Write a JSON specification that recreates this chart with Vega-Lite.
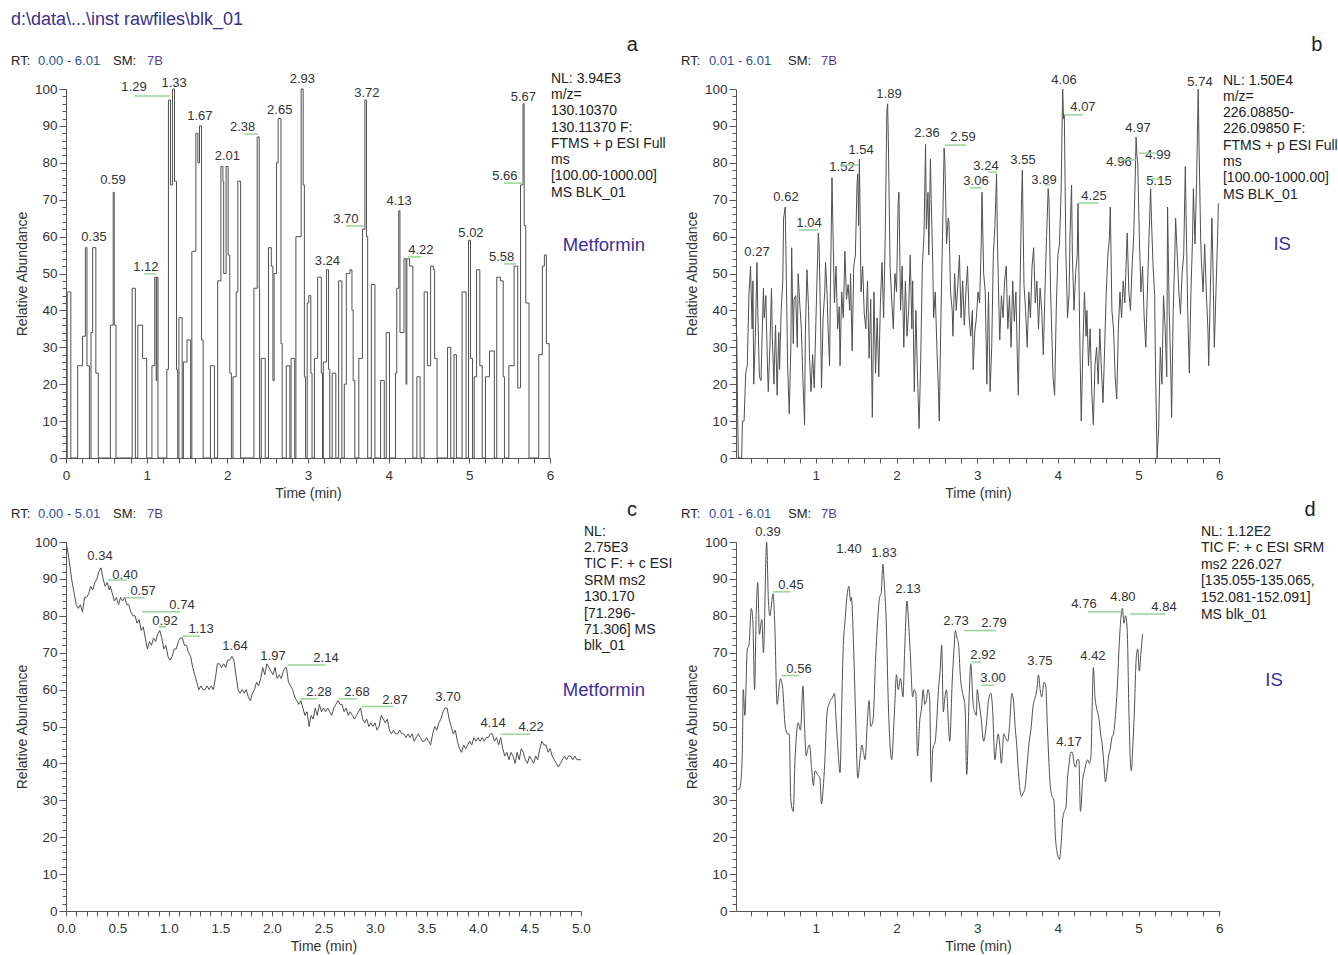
{
"$schema": "https://vega.github.io/schema/vega-lite/v6.json",
"padding": {"left": 10, "top": 11, "right": 0, "bottom": 0},
"background": "white",
"config": {
 "font": "Liberation Sans",
 "view": {"stroke": null},
 "axis": {"grid": false, "domainColor": "#555", "tickColor": "#555", "domainWidth": 1, "tickWidth": 1, "labelColor": "#333", "labelFont": "Liberation Sans", "labelFontSize": 13.5, "titleFont": "Liberation Sans", "titleFontSize": 14, "titleFontWeight": "normal", "titleColor": "#333", "labelOverlap": false, "labelFlush": false, "tickCount": 1000}
},
"columns": 2,
"spacing": {"row": 84, "column": 155},
"bounds": "flush",
"concat": [
{
 "width": 484, "height": 369,
 "layer": [
  {"data": {"values": [
{"t":0,"v":0},{"t":0.015,"v":45},{"t":0.06,"v":0},{"t":0.145,"v":25},{"t":0.205,"v":33},{"t":0.24,"v":57},{"t":0.26,"v":25},{"t":0.29,"v":0},{"t":0.31,"v":34},{"t":0.33,"v":57},{"t":0.37,"v":23},{"t":0.4,"v":0},{"t":0.55,"v":36},{"t":0.585,"v":72},{"t":0.598,"v":36},{"t":0.62,"v":0},{"t":0.82,"v":46},{"t":0.86,"v":0},{"t":0.89,"v":36},{"t":0.95,"v":27},{"t":1.0,"v":0},{"t":1.065,"v":25},{"t":1.1,"v":49},{"t":1.118,"v":21},{"t":1.125,"v":49},{"t":1.14,"v":0},{"t":1.25,"v":24},{"t":1.27,"v":97},{"t":1.295,"v":74},{"t":1.32,"v":100},{"t":1.345,"v":75},{"t":1.37,"v":24},{"t":1.385,"v":0},{"t":1.4,"v":38},{"t":1.44,"v":0},{"t":1.455,"v":26},{"t":1.5,"v":32},{"t":1.545,"v":0},{"t":1.56,"v":56},{"t":1.61,"v":88},{"t":1.635,"v":80},{"t":1.655,"v":90},{"t":1.68,"v":32},{"t":1.7,"v":0},{"t":1.79,"v":25},{"t":1.84,"v":0},{"t":1.88,"v":48},{"t":1.92,"v":79},{"t":1.945,"v":75},{"t":1.955,"v":50},{"t":1.985,"v":79},{"t":2.01,"v":55},{"t":2.03,"v":23},{"t":2.05,"v":0},{"t":2.07,"v":22},{"t":2.11,"v":45},{"t":2.13,"v":75},{"t":2.165,"v":0},{"t":2.33,"v":46},{"t":2.37,"v":87},{"t":2.395,"v":46},{"t":2.4,"v":0},{"t":2.42,"v":27},{"t":2.47,"v":0},{"t":2.51,"v":57},{"t":2.545,"v":52},{"t":2.565,"v":21},{"t":2.58,"v":50},{"t":2.61,"v":80},{"t":2.63,"v":92},{"t":2.665,"v":31},{"t":2.68,"v":0},{"t":2.73,"v":25},{"t":2.775,"v":0},{"t":2.79,"v":27},{"t":2.835,"v":0},{"t":2.85,"v":60},{"t":2.915,"v":100},{"t":2.94,"v":74},{"t":2.955,"v":22},{"t":2.97,"v":0},{"t":2.99,"v":42},{"t":3.01,"v":44},{"t":3.035,"v":23},{"t":3.05,"v":0},{"t":3.08,"v":27},{"t":3.12,"v":49},{"t":3.165,"v":23},{"t":3.18,"v":0},{"t":3.19,"v":26},{"t":3.23,"v":51},{"t":3.255,"v":24},{"t":3.27,"v":0},{"t":3.3,"v":23},{"t":3.345,"v":0},{"t":3.38,"v":48},{"t":3.42,"v":0},{"t":3.45,"v":20},{"t":3.475,"v":50},{"t":3.52,"v":51},{"t":3.545,"v":40},{"t":3.56,"v":21},{"t":3.58,"v":0},{"t":3.63,"v":27},{"t":3.675,"v":62},{"t":3.705,"v":97},{"t":3.725,"v":60},{"t":3.74,"v":0},{"t":3.785,"v":47},{"t":3.83,"v":0},{"t":3.9,"v":21},{"t":3.945,"v":0},{"t":3.97,"v":34},{"t":4.01,"v":0},{"t":4.085,"v":23},{"t":4.1,"v":46},{"t":4.125,"v":67},{"t":4.14,"v":34},{"t":4.19,"v":54},{"t":4.215,"v":20},{"t":4.225,"v":54},{"t":4.26,"v":52},{"t":4.3,"v":0},{"t":4.35,"v":22},{"t":4.39,"v":0},{"t":4.44,"v":45},{"t":4.48,"v":25},{"t":4.52,"v":52},{"t":4.555,"v":51},{"t":4.57,"v":27},{"t":4.6,"v":0},{"t":4.73,"v":30},{"t":4.77,"v":0},{"t":4.81,"v":28},{"t":4.84,"v":0},{"t":4.91,"v":45},{"t":4.96,"v":0},{"t":4.99,"v":59},{"t":5.015,"v":27},{"t":5.04,"v":0},{"t":5.06,"v":22},{"t":5.09,"v":51},{"t":5.13,"v":25},{"t":5.16,"v":0},{"t":5.2,"v":22},{"t":5.25,"v":29},{"t":5.31,"v":0},{"t":5.34,"v":49},{"t":5.385,"v":48},{"t":5.42,"v":22},{"t":5.435,"v":0},{"t":5.49,"v":25},{"t":5.555,"v":52},{"t":5.6,"v":19},{"t":5.635,"v":74},{"t":5.665,"v":96},{"t":5.68,"v":63},{"t":5.7,"v":42},{"t":5.74,"v":0},{"t":5.86,"v":28},{"t":5.905,"v":52},{"t":5.93,"v":55},{"t":5.955,"v":31},{"t":5.99,"v":0},{"t":6.0,"v":0}
  ]},
   "mark": {"type": "line", "interpolate": "step-after", "color": "#505050", "strokeWidth": 1},
   "encoding": {
    "x": {"field": "t", "type": "quantitative", "scale": {"domain": [0, 6], "nice": false, "zero": false},
      "axis": {"title": "Time (min)", "values": [0,0.2,0.4,0.6,0.8,1,1.2,1.4,1.6,1.8,2,2.2,2.4,2.6,2.8,3,3.2,3.4,3.6,3.8,4,4.2,4.4,4.6,4.8,5,5.2,5.4,5.6,5.8,6], "tickCount": 1000, "labelExpr": "datum.value % 1 === 0 ? format(datum.value, 'd') : ''", "labelOverlap": false, "labelBound": false, "tickSize": 5, "labelPadding": 5, "titlePadding": 5}},
    "y": {"field": "v", "type": "quantitative", "scale": {"domain": [0, 100], "nice": false},
      "axis": {"title": "Relative Abundance", "values": [0,2,4,6,8,10,12,14,16,18,20,22,24,26,28,30,32,34,36,38,40,42,44,46,48,50,52,54,56,58,60,62,64,66,68,70,72,74,76,78,80,82,84,86,88,90,92,94,96,98,100], "tickCount": 1000, "labelExpr": "datum.value % 10 === 0 ? format(datum.value, 'd') : ''", "labelOverlap": false, "labelBound": false, "tickSize": {"condition": {"test": "datum.value % 10 === 0", "value": 7}, "value": 4}, "labelPadding": 2, "titlePadding": 5}}
   }},
  {"data": {"values": [
{"t":0.347,"v":59.9,"label":"0.35"},{"t":0.583,"v":75.3,"label":"0.59"},{"t":0.99,"v":51.8,"label":"1.12"},{"t":0.843,"v":100.5,"label":"1.29"},{"t":1.34,"v":101.6,"label":"1.33"},{"t":1.66,"v":92.7,"label":"1.67"},{"t":2.0,"v":81.8,"label":"2.01"},{"t":2.19,"v":89.7,"label":"2.38"},{"t":2.65,"v":94.3,"label":"2.65"},{"t":2.93,"v":102.7,"label":"2.93"},{"t":3.24,"v":53.4,"label":"3.24"},{"t":3.47,"v":64.8,"label":"3.70"},{"t":3.73,"v":98.9,"label":"3.72"},{"t":4.13,"v":69.6,"label":"4.13"},{"t":4.4,"v":56.4,"label":"4.22"},{"t":5.02,"v":61,"label":"5.02"},{"t":5.4,"v":54.5,"label":"5.58"},{"t":5.44,"v":76.4,"label":"5.66"},{"t":5.67,"v":97.8,"label":"5.67"}
  ]},
   "mark": {"type": "text", "fontSize": 13, "color": "#333", "baseline": "middle", "align": "center"},
   "encoding": {"x": {"field": "t", "type": "quantitative"}, "y": {"field": "v", "type": "quantitative"}, "text": {"field": "label"}}},
  {"data": {"values": [
{"t":0.97,"t2":1.12,"v":49.9},{"t":0.85,"t2":1.29,"v":98.1},{"t":2.21,"t2":2.38,"v":87.8},{"t":3.47,"t2":3.69,"v":62.9},{"t":4.24,"t2":4.4,"v":54.5},{"t":5.43,"t2":5.58,"v":52.6},{"t":5.43,"t2":5.67,"v":74.5}
  ]},
   "mark": {"type": "rule", "color": "#9ad39a", "strokeWidth": 1.5},
   "encoding": {"x": {"field": "t", "type": "quantitative"}, "x2": {"field": "t2"}, "y": {"field": "v", "type": "quantitative"}}},
  {"data": {"values": [
{"t":-0.682,"v":109.3,"kind":"rt","txt":"RT:"},{"t":-0.347,"v":109.3,"kind":"range","txt":"0.00 - 6.01"},{"t":0.583,"v":109.3,"kind":"rt","txt":"SM:"},{"t":1.004,"v":109.3,"kind":"code","txt":"7B"},
{"t":6.012,"v":104.7,"kind":"block","txt":"NL: 3.94E3\nm/z=\n130.10370\n130.11370 F:\nFTMS + p ESI Full\nms\n[100.00-1000.00]\nMS BLK_01"}
  ]},
   "mark": {"type": "text", "fontSize": 14, "align": "left", "baseline": "top", "lineBreak": "\n", "lineHeight": 16.3},
   "encoding": {"x": {"field": "t", "type": "quantitative"}, "y": {"field": "v", "type": "quantitative"}, "text": {"field": "txt"},
     "size": {"condition": {"test": "datum.kind === 'block'", "value": 14}, "value": 13},
     "color": {"condition": [{"test": "datum.kind === 'range'", "value": "#2d4e9e"}, {"test": "datum.kind === 'code'", "value": "#5b3c9c"}], "value": "#222222"}}},
  {"data": {"values": [
{"t":7.02,"v":111.9,"kind":"letter","txt":"a"},{"t":6.669,"v":57.7,"kind":"compound","txt":"Metformin"}
  ]},
   "mark": {"type": "text", "align": "center", "baseline": "middle"},
   "encoding": {"x": {"field": "t", "type": "quantitative"}, "y": {"field": "v", "type": "quantitative"}, "text": {"field": "txt"},
     "size": {"condition": {"test": "datum.kind === 'letter'", "value": 20}, "value": 18.5},
     "color": {"condition": {"test": "datum.kind === 'compound'", "value": "#3b2f9a"}, "value": "#222222"}}},
  {"data": {"values": [{"t":-0.682,"v":121.1,"txt":"d:\\data\\...\\inst rawfiles\\blk_01"}]},
   "mark": {"type": "text", "align": "left", "baseline": "top", "fontSize": 18, "color": "#3a2e8f"},
   "encoding": {"x": {"field": "t", "type": "quantitative"}, "y": {"field": "v", "type": "quantitative"}, "text": {"field": "txt"}}}
 ]
},
{
 "width": 484, "height": 369,
 "layer": [
  {"data": {"values": [
{"t":0.01,"v":38},{"t":0.02,"v":32},{"t":0.03,"v":12},{"t":0.04,"v":0},{"t":0.06,"v":0},{"t":0.08,"v":0},{"t":0.09,"v":10},{"t":0.11,"v":10},{"t":0.13,"v":23},{"t":0.15,"v":25},{"t":0.17,"v":44},{"t":0.19,"v":52},{"t":0.21,"v":35},{"t":0.22,"v":48},{"t":0.23,"v":20},{"t":0.25,"v":33},{"t":0.27,"v":53},{"t":0.28,"v":40},{"t":0.3,"v":22},{"t":0.32,"v":21},{"t":0.33,"v":30},{"t":0.35,"v":46},{"t":0.36,"v":38},{"t":0.38,"v":44},{"t":0.4,"v":25},{"t":0.41,"v":18},{"t":0.43,"v":30},{"t":0.45,"v":46},{"t":0.46,"v":33},{"t":0.48,"v":20},{"t":0.5,"v":36},{"t":0.52,"v":17},{"t":0.54,"v":34},{"t":0.55,"v":24},{"t":0.57,"v":40},{"t":0.59,"v":48},{"t":0.6,"v":65},{"t":0.62,"v":68},{"t":0.64,"v":40},{"t":0.65,"v":25},{"t":0.67,"v":12},{"t":0.69,"v":30},{"t":0.7,"v":57},{"t":0.72,"v":31},{"t":0.73,"v":43},{"t":0.75,"v":44},{"t":0.77,"v":30},{"t":0.78,"v":50},{"t":0.8,"v":42},{"t":0.82,"v":35},{"t":0.84,"v":21},{"t":0.86,"v":9},{"t":0.87,"v":34},{"t":0.89,"v":51},{"t":0.91,"v":40},{"t":0.92,"v":28},{"t":0.94,"v":18},{"t":0.96,"v":28},{"t":0.98,"v":19},{"t":0.99,"v":28},{"t":1.01,"v":45},{"t":1.03,"v":61},{"t":1.04,"v":58},{"t":1.06,"v":35},{"t":1.07,"v":19},{"t":1.09,"v":38},{"t":1.11,"v":45},{"t":1.12,"v":53},{"t":1.14,"v":44},{"t":1.15,"v":36},{"t":1.17,"v":25},{"t":1.18,"v":45},{"t":1.2,"v":76},{"t":1.21,"v":64},{"t":1.23,"v":42},{"t":1.25,"v":52},{"t":1.27,"v":35},{"t":1.29,"v":41},{"t":1.3,"v":25},{"t":1.32,"v":45},{"t":1.34,"v":38},{"t":1.36,"v":56},{"t":1.38,"v":43},{"t":1.4,"v":47},{"t":1.42,"v":40},{"t":1.43,"v":50},{"t":1.45,"v":29},{"t":1.47,"v":52},{"t":1.49,"v":55},{"t":1.51,"v":74},{"t":1.52,"v":77},{"t":1.53,"v":63},{"t":1.54,"v":81},{"t":1.56,"v":45},{"t":1.58,"v":52},{"t":1.6,"v":39},{"t":1.62,"v":35},{"t":1.64,"v":48},{"t":1.66,"v":27},{"t":1.68,"v":43},{"t":1.7,"v":11},{"t":1.72,"v":45},{"t":1.74,"v":23},{"t":1.76,"v":38},{"t":1.78,"v":22},{"t":1.8,"v":42},{"t":1.82,"v":53},{"t":1.84,"v":38},{"t":1.86,"v":60},{"t":1.88,"v":94},{"t":1.89,"v":96},{"t":1.9,"v":84},{"t":1.92,"v":52},{"t":1.94,"v":43},{"t":1.96,"v":35},{"t":1.98,"v":50},{"t":2.0,"v":45},{"t":2.02,"v":69},{"t":2.03,"v":72},{"t":2.05,"v":40},{"t":2.07,"v":52},{"t":2.09,"v":30},{"t":2.11,"v":48},{"t":2.13,"v":33},{"t":2.15,"v":40},{"t":2.17,"v":55},{"t":2.19,"v":35},{"t":2.2,"v":48},{"t":2.22,"v":18},{"t":2.24,"v":40},{"t":2.26,"v":22},{"t":2.28,"v":8},{"t":2.3,"v":27},{"t":2.32,"v":52},{"t":2.34,"v":60},{"t":2.36,"v":85},{"t":2.37,"v":62},{"t":2.39,"v":72},{"t":2.4,"v":55},{"t":2.42,"v":81},{"t":2.43,"v":70},{"t":2.45,"v":52},{"t":2.46,"v":38},{"t":2.48,"v":45},{"t":2.5,"v":30},{"t":2.52,"v":18},{"t":2.53,"v":10},{"t":2.55,"v":38},{"t":2.57,"v":60},{"t":2.59,"v":84},{"t":2.6,"v":80},{"t":2.62,"v":58},{"t":2.64,"v":65},{"t":2.65,"v":64},{"t":2.67,"v":45},{"t":2.69,"v":40},{"t":2.7,"v":33},{"t":2.72,"v":50},{"t":2.74,"v":40},{"t":2.76,"v":47},{"t":2.78,"v":55},{"t":2.8,"v":38},{"t":2.82,"v":48},{"t":2.84,"v":36},{"t":2.86,"v":45},{"t":2.88,"v":52},{"t":2.9,"v":38},{"t":2.92,"v":33},{"t":2.94,"v":40},{"t":2.95,"v":24},{"t":2.97,"v":34},{"t":2.99,"v":38},{"t":3.01,"v":45},{"t":3.03,"v":42},{"t":3.05,"v":58},{"t":3.06,"v":72},{"t":3.08,"v":50},{"t":3.1,"v":45},{"t":3.12,"v":20},{"t":3.14,"v":45},{"t":3.16,"v":18},{"t":3.18,"v":30},{"t":3.2,"v":55},{"t":3.22,"v":63},{"t":3.24,"v":77},{"t":3.25,"v":60},{"t":3.27,"v":40},{"t":3.28,"v":32},{"t":3.3,"v":44},{"t":3.32,"v":38},{"t":3.34,"v":48},{"t":3.36,"v":52},{"t":3.38,"v":35},{"t":3.4,"v":44},{"t":3.42,"v":30},{"t":3.44,"v":48},{"t":3.46,"v":37},{"t":3.48,"v":45},{"t":3.5,"v":25},{"t":3.51,"v":17},{"t":3.53,"v":45},{"t":3.55,"v":70},{"t":3.56,"v":78},{"t":3.58,"v":47},{"t":3.6,"v":40},{"t":3.62,"v":30},{"t":3.64,"v":45},{"t":3.66,"v":38},{"t":3.68,"v":52},{"t":3.7,"v":57},{"t":3.72,"v":42},{"t":3.74,"v":48},{"t":3.76,"v":35},{"t":3.78,"v":46},{"t":3.8,"v":40},{"t":3.82,"v":28},{"t":3.84,"v":45},{"t":3.86,"v":60},{"t":3.88,"v":73},{"t":3.89,"v":70},{"t":3.91,"v":45},{"t":3.93,"v":30},{"t":3.94,"v":22},{"t":3.96,"v":17},{"t":3.98,"v":40},{"t":4.0,"v":55},{"t":4.02,"v":58},{"t":4.04,"v":72},{"t":4.06,"v":100},{"t":4.07,"v":92},{"t":4.08,"v":93},{"t":4.1,"v":55},{"t":4.12,"v":38},{"t":4.14,"v":45},{"t":4.15,"v":60},{"t":4.17,"v":74},{"t":4.18,"v":55},{"t":4.2,"v":40},{"t":4.22,"v":50},{"t":4.24,"v":55},{"t":4.25,"v":69},{"t":4.27,"v":35},{"t":4.29,"v":10},{"t":4.31,"v":30},{"t":4.33,"v":45},{"t":4.35,"v":33},{"t":4.36,"v":40},{"t":4.38,"v":25},{"t":4.4,"v":35},{"t":4.42,"v":18},{"t":4.44,"v":9},{"t":4.46,"v":25},{"t":4.48,"v":30},{"t":4.5,"v":20},{"t":4.52,"v":35},{"t":4.54,"v":24},{"t":4.56,"v":15},{"t":4.58,"v":30},{"t":4.6,"v":45},{"t":4.62,"v":55},{"t":4.64,"v":60},{"t":4.65,"v":68},{"t":4.67,"v":40},{"t":4.69,"v":35},{"t":4.71,"v":22},{"t":4.73,"v":16},{"t":4.75,"v":35},{"t":4.77,"v":45},{"t":4.79,"v":38},{"t":4.81,"v":48},{"t":4.83,"v":42},{"t":4.85,"v":55},{"t":4.86,"v":61},{"t":4.88,"v":45},{"t":4.9,"v":40},{"t":4.92,"v":52},{"t":4.94,"v":60},{"t":4.96,"v":77},{"t":4.97,"v":87},{"t":4.98,"v":82},{"t":4.99,"v":80},{"t":5.01,"v":60},{"t":5.03,"v":45},{"t":5.05,"v":52},{"t":5.07,"v":38},{"t":5.09,"v":30},{"t":5.11,"v":45},{"t":5.13,"v":60},{"t":5.15,"v":73},{"t":5.16,"v":65},{"t":5.18,"v":52},{"t":5.2,"v":44},{"t":5.21,"v":25},{"t":5.23,"v":0},{"t":5.25,"v":8},{"t":5.27,"v":30},{"t":5.29,"v":20},{"t":5.31,"v":44},{"t":5.33,"v":35},{"t":5.35,"v":22},{"t":5.36,"v":68},{"t":5.38,"v":40},{"t":5.4,"v":24},{"t":5.41,"v":11},{"t":5.43,"v":40},{"t":5.45,"v":55},{"t":5.46,"v":65},{"t":5.48,"v":55},{"t":5.5,"v":45},{"t":5.52,"v":39},{"t":5.54,"v":50},{"t":5.56,"v":55},{"t":5.58,"v":79},{"t":5.59,"v":65},{"t":5.61,"v":40},{"t":5.63,"v":23},{"t":5.65,"v":45},{"t":5.67,"v":60},{"t":5.68,"v":73},{"t":5.7,"v":58},{"t":5.72,"v":75},{"t":5.74,"v":100},{"t":5.75,"v":85},{"t":5.77,"v":60},{"t":5.78,"v":53},{"t":5.8,"v":45},{"t":5.82,"v":58},{"t":5.84,"v":45},{"t":5.86,"v":35},{"t":5.87,"v":25},{"t":5.89,"v":45},{"t":5.91,"v":65},{"t":5.92,"v":55},{"t":5.94,"v":30},{"t":5.96,"v":45},{"t":5.98,"v":60},{"t":5.99,"v":69}
  ]},
   "mark": {"type": "line", "color": "#505050", "strokeWidth": 1},
   "encoding": {
    "x": {"field": "t", "type": "quantitative", "scale": {"domain": [0.01, 6.01], "nice": false, "zero": false},
      "axis": {"title": "Time (min)", "values": [0.2,0.4,0.6,0.8,1,1.2,1.4,1.6,1.8,2,2.2,2.4,2.6,2.8,3,3.2,3.4,3.6,3.8,4,4.2,4.4,4.6,4.8,5,5.2,5.4,5.6,5.8,6], "tickCount": 1000, "labelExpr": "datum.value % 1 === 0 ? format(datum.value, 'd') : ''", "labelOverlap": false, "labelBound": false, "tickSize": 5, "labelPadding": 5, "titlePadding": 5}},
    "y": {"field": "v", "type": "quantitative", "scale": {"domain": [0, 100], "nice": false},
      "axis": {"title": "Relative Abundance", "values": [0,2,4,6,8,10,12,14,16,18,20,22,24,26,28,30,32,34,36,38,40,42,44,46,48,50,52,54,56,58,60,62,64,66,68,70,72,74,76,78,80,82,84,86,88,90,92,94,96,98,100], "tickCount": 1000, "labelExpr": "datum.value % 10 === 0 ? format(datum.value, 'd') : ''", "labelOverlap": false, "labelBound": false, "tickSize": {"condition": {"test": "datum.value % 10 === 0", "value": 7}, "value": 4}, "labelPadding": 2, "titlePadding": 5}}
   }},
  {"data": {"values": [
{"t":0.27,"v":55.8,"label":"0.27"},{"t":0.63,"v":70.7,"label":"0.62"},{"t":0.915,"v":63.7,"label":"1.04"},{"t":1.324,"v":78.9,"label":"1.52"},{"t":1.56,"v":83.5,"label":"1.54"},{"t":1.907,"v":98.6,"label":"1.89"},{"t":2.378,"v":88.1,"label":"2.36"},{"t":2.824,"v":87,"label":"2.59"},{"t":2.985,"v":75.1,"label":"3.06"},{"t":3.109,"v":79.1,"label":"3.24"},{"t":3.568,"v":80.8,"label":"3.55"},{"t":3.828,"v":75.3,"label":"3.89"},{"t":4.076,"v":102.4,"label":"4.06"},{"t":4.311,"v":95.1,"label":"4.07"},{"t":4.448,"v":71,"label":"4.25"},{"t":4.758,"v":80.2,"label":"4.96"},{"t":4.993,"v":89.4,"label":"4.97"},{"t":5.241,"v":82.1,"label":"4.99"},{"t":5.254,"v":75.1,"label":"5.15"},{"t":5.762,"v":101.9,"label":"5.74"}
  ]},
   "mark": {"type": "text", "fontSize": 13, "color": "#333", "baseline": "middle", "align": "center"},
   "encoding": {"x": {"field": "t", "type": "quantitative"}, "y": {"field": "v", "type": "quantitative"}, "text": {"field": "label"}}},
  {"data": {"values": [
{"t":0.79,"t2":1.03,"v":61.8},{"t":1.3,"t2":1.53,"v":79.4},{"t":2.6,"t2":2.86,"v":84.8},{"t":2.91,"t2":3.06,"v":73.2},{"t":3.13,"t2":3.25,"v":77.5},{"t":3.84,"t2":3.9,"v":74},{"t":4.08,"t2":4.31,"v":93},{"t":4.26,"t2":4.5,"v":69.1},{"t":4.75,"t2":4.97,"v":80.8},{"t":5.0,"t2":5.24,"v":82.6},{"t":5.15,"t2":5.27,"v":75.6}
  ]},
   "mark": {"type": "rule", "color": "#9ad39a", "strokeWidth": 1.5},
   "encoding": {"x": {"field": "t", "type": "quantitative"}, "x2": {"field": "t2"}, "y": {"field": "v", "type": "quantitative"}}},
  {"data": {"values": [
{"t":-0.672,"v":109.3,"kind":"rt","txt":"RT:"},{"t":-0.325,"v":109.3,"kind":"range","txt":"0.01 - 6.01"},{"t":0.655,"v":109.3,"kind":"rt","txt":"SM:"},{"t":1.064,"v":109.3,"kind":"code","txt":"7B"},
{"t":6.047,"v":104.2,"kind":"block","txt":"NL: 1.50E4\nm/z=\n226.08850-\n226.09850 F:\nFTMS + p ESI Full\nms\n[100.00-1000.00]\nMS BLK_01"}
  ]},
   "mark": {"type": "text", "fontSize": 14, "align": "left", "baseline": "top", "lineBreak": "\n", "lineHeight": 16.3},
   "encoding": {"x": {"field": "t", "type": "quantitative"}, "y": {"field": "v", "type": "quantitative"}, "text": {"field": "txt"},
     "size": {"condition": {"test": "datum.kind === 'block'", "value": 14}, "value": 13},
     "color": {"condition": [{"test": "datum.kind === 'range'", "value": "#2d4e9e"}, {"test": "datum.kind === 'code'", "value": "#5b3c9c"}], "value": "#222222"}}},
  {"data": {"values": [
{"t":7.21,"v":111.9,"kind":"letter","txt":"b"},{"t":6.78,"v":58,"kind":"compound","txt":"IS"}
  ]},
   "mark": {"type": "text", "align": "center", "baseline": "middle"},
   "encoding": {"x": {"field": "t", "type": "quantitative"}, "y": {"field": "v", "type": "quantitative"}, "text": {"field": "txt"},
     "size": {"condition": {"test": "datum.kind === 'letter'", "value": 20}, "value": 18.5},
     "color": {"condition": {"test": "datum.kind === 'compound'", "value": "#3b2f9a"}, "value": "#222222"}}}
 ]
},
{
 "width": 515, "height": 369,
 "layer": [
  {"data": {"values": [
{"t":0,"v":100},{"t":0.02,"v":97},{"t":0.04,"v":93},{"t":0.06,"v":89},{"t":0.08,"v":86},{"t":0.1,"v":83},{"t":0.12,"v":82},{"t":0.14,"v":83},{"t":0.16,"v":81},{"t":0.18,"v":85},{"t":0.2,"v":85},{"t":0.22,"v":86},{"t":0.24,"v":88},{"t":0.26,"v":87},{"t":0.28,"v":89},{"t":0.3,"v":90},{"t":0.32,"v":92},{"t":0.34,"v":93},{"t":0.36,"v":90},{"t":0.38,"v":88},{"t":0.4,"v":89},{"t":0.42,"v":87},{"t":0.43,"v":88},{"t":0.45,"v":86},{"t":0.47,"v":84},{"t":0.49,"v":85},{"t":0.51,"v":83},{"t":0.53,"v":85},{"t":0.55,"v":84},{"t":0.57,"v":85},{"t":0.59,"v":83},{"t":0.61,"v":83},{"t":0.63,"v":81},{"t":0.65,"v":80},{"t":0.67,"v":80},{"t":0.69,"v":78},{"t":0.71,"v":79},{"t":0.73,"v":76},{"t":0.75,"v":77},{"t":0.77,"v":74},{"t":0.79,"v":71},{"t":0.81,"v":73},{"t":0.83,"v":72},{"t":0.85,"v":74},{"t":0.87,"v":73},{"t":0.89,"v":75},{"t":0.91,"v":76},{"t":0.93,"v":74},{"t":0.95,"v":71},{"t":0.97,"v":72},{"t":0.99,"v":69},{"t":1.01,"v":68},{"t":1.03,"v":69},{"t":1.05,"v":71},{"t":1.07,"v":71},{"t":1.09,"v":73},{"t":1.11,"v":74},{"t":1.13,"v":74},{"t":1.15,"v":72},{"t":1.17,"v":72},{"t":1.19,"v":70},{"t":1.21,"v":69},{"t":1.23,"v":66},{"t":1.25,"v":64},{"t":1.27,"v":62},{"t":1.29,"v":60},{"t":1.31,"v":61},{"t":1.33,"v":60},{"t":1.35,"v":60},{"t":1.37,"v":61},{"t":1.39,"v":60},{"t":1.41,"v":61},{"t":1.43,"v":60},{"t":1.45,"v":63},{"t":1.47,"v":67},{"t":1.49,"v":67},{"t":1.51,"v":66},{"t":1.53,"v":67},{"t":1.55,"v":66},{"t":1.57,"v":68},{"t":1.59,"v":68},{"t":1.61,"v":69},{"t":1.63,"v":68},{"t":1.65,"v":64},{"t":1.67,"v":60},{"t":1.69,"v":59},{"t":1.71,"v":60},{"t":1.73,"v":59},{"t":1.75,"v":60},{"t":1.77,"v":58},{"t":1.79,"v":57},{"t":1.81,"v":59},{"t":1.83,"v":60},{"t":1.85,"v":62},{"t":1.87,"v":61},{"t":1.89,"v":63},{"t":1.91,"v":66},{"t":1.93,"v":64},{"t":1.95,"v":67},{"t":1.97,"v":66},{"t":1.99,"v":65},{"t":2.01,"v":64},{"t":2.03,"v":66},{"t":2.05,"v":63},{"t":2.07,"v":64},{"t":2.09,"v":63},{"t":2.11,"v":65},{"t":2.13,"v":66},{"t":2.14,"v":66},{"t":2.16,"v":62},{"t":2.18,"v":61},{"t":2.2,"v":60},{"t":2.22,"v":58},{"t":2.24,"v":57},{"t":2.26,"v":56},{"t":2.28,"v":57},{"t":2.3,"v":55},{"t":2.32,"v":53},{"t":2.34,"v":54},{"t":2.36,"v":50},{"t":2.38,"v":53},{"t":2.4,"v":52},{"t":2.42,"v":55},{"t":2.44,"v":53},{"t":2.46,"v":56},{"t":2.48,"v":54},{"t":2.5,"v":55},{"t":2.52,"v":54},{"t":2.54,"v":55},{"t":2.56,"v":54},{"t":2.58,"v":53},{"t":2.6,"v":55},{"t":2.62,"v":56},{"t":2.64,"v":57},{"t":2.66,"v":56},{"t":2.68,"v":56},{"t":2.7,"v":54},{"t":2.72,"v":55},{"t":2.74,"v":53},{"t":2.76,"v":54},{"t":2.78,"v":53},{"t":2.8,"v":52},{"t":2.82,"v":53},{"t":2.84,"v":54},{"t":2.86,"v":55},{"t":2.88,"v":52},{"t":2.9,"v":51},{"t":2.92,"v":52},{"t":2.94,"v":50},{"t":2.96,"v":51},{"t":2.98,"v":50},{"t":3.0,"v":51},{"t":3.02,"v":49},{"t":3.04,"v":50},{"t":3.06,"v":53},{"t":3.08,"v":52},{"t":3.1,"v":51},{"t":3.12,"v":52},{"t":3.14,"v":49},{"t":3.16,"v":48},{"t":3.18,"v":49},{"t":3.2,"v":48},{"t":3.22,"v":48},{"t":3.24,"v":49},{"t":3.26,"v":48},{"t":3.28,"v":48},{"t":3.3,"v":47},{"t":3.32,"v":48},{"t":3.34,"v":47},{"t":3.36,"v":48},{"t":3.38,"v":46},{"t":3.4,"v":47},{"t":3.42,"v":48},{"t":3.44,"v":47},{"t":3.46,"v":46},{"t":3.48,"v":46},{"t":3.5,"v":47},{"t":3.52,"v":46},{"t":3.54,"v":45},{"t":3.56,"v":48},{"t":3.58,"v":50},{"t":3.6,"v":49},{"t":3.62,"v":51},{"t":3.64,"v":52},{"t":3.66,"v":54},{"t":3.68,"v":55},{"t":3.7,"v":55},{"t":3.72,"v":52},{"t":3.74,"v":50},{"t":3.76,"v":48},{"t":3.78,"v":49},{"t":3.8,"v":46},{"t":3.82,"v":44},{"t":3.84,"v":43},{"t":3.86,"v":45},{"t":3.88,"v":44},{"t":3.9,"v":45},{"t":3.92,"v":46},{"t":3.94,"v":45},{"t":3.96,"v":47},{"t":3.98,"v":46},{"t":4.0,"v":47},{"t":4.02,"v":46},{"t":4.04,"v":47},{"t":4.06,"v":46},{"t":4.08,"v":47},{"t":4.1,"v":47},{"t":4.12,"v":48},{"t":4.14,"v":48},{"t":4.16,"v":46},{"t":4.18,"v":47},{"t":4.2,"v":45},{"t":4.22,"v":47},{"t":4.24,"v":44},{"t":4.26,"v":42},{"t":4.28,"v":43},{"t":4.3,"v":41},{"t":4.32,"v":43},{"t":4.34,"v":42},{"t":4.36,"v":40},{"t":4.38,"v":43},{"t":4.4,"v":41},{"t":4.42,"v":44},{"t":4.44,"v":43},{"t":4.46,"v":41},{"t":4.48,"v":40},{"t":4.5,"v":42},{"t":4.52,"v":41},{"t":4.54,"v":40},{"t":4.56,"v":42},{"t":4.58,"v":41},{"t":4.6,"v":44},{"t":4.62,"v":46},{"t":4.64,"v":45},{"t":4.66,"v":45},{"t":4.68,"v":43},{"t":4.7,"v":44},{"t":4.72,"v":42},{"t":4.74,"v":41},{"t":4.76,"v":40},{"t":4.78,"v":39},{"t":4.8,"v":40},{"t":4.82,"v":41},{"t":4.84,"v":42},{"t":4.86,"v":41},{"t":4.88,"v":42},{"t":4.9,"v":42},{"t":4.92,"v":41},{"t":4.94,"v":42},{"t":4.96,"v":41},{"t":4.98,"v":41},{"t":5.0,"v":41}
  ]},
   "mark": {"type": "line", "color": "#505050", "strokeWidth": 1},
   "encoding": {
    "x": {"field": "t", "type": "quantitative", "scale": {"domain": [0, 5], "nice": false, "zero": false},
      "axis": {"title": "Time (min)", "values": [0,0.1,0.2,0.3,0.4,0.5,0.6,0.7,0.8,0.9,1,1.1,1.2,1.3,1.4,1.5,1.6,1.7,1.8,1.9,2,2.1,2.2,2.3,2.4,2.5,2.6,2.7,2.8,2.9,3,3.1,3.2,3.3,3.4,3.5,3.6,3.7,3.8,3.9,4,4.1,4.2,4.3,4.4,4.5,4.6,4.7,4.8,4.9,5], "tickCount": 1000, "labelExpr": "abs(datum.value * 2 - round(datum.value * 2)) < 0.000001 ? format(datum.value, '.1f') : ''", "labelOverlap": false, "labelBound": false, "tickSize": 5, "labelPadding": 5, "titlePadding": 5}},
    "y": {"field": "v", "type": "quantitative", "scale": {"domain": [0, 100], "nice": false},
      "axis": {"title": "Relative Abundance", "values": [0,2,4,6,8,10,12,14,16,18,20,22,24,26,28,30,32,34,36,38,40,42,44,46,48,50,52,54,56,58,60,62,64,66,68,70,72,74,76,78,80,82,84,86,88,90,92,94,96,98,100], "tickCount": 1000, "labelExpr": "datum.value % 10 === 0 ? format(datum.value, 'd') : ''", "labelOverlap": false, "labelBound": false, "tickSize": {"condition": {"test": "datum.value % 10 === 0", "value": 7}, "value": 4}, "labelPadding": 2, "titlePadding": 5}}
   }},
  {"data": {"values": [
{"t":0.33,"v":96.2,"label":"0.34"},{"t":0.573,"v":91.1,"label":"0.40"},{"t":0.748,"v":86.7,"label":"0.57"},{"t":1.126,"v":82.9,"label":"0.74"},{"t":0.961,"v":78.6,"label":"0.92"},{"t":1.311,"v":76.4,"label":"1.13"},{"t":1.641,"v":71.8,"label":"1.64"},{"t":2.01,"v":69.1,"label":"1.97"},{"t":2.524,"v":68.6,"label":"2.14"},{"t":2.456,"v":59.3,"label":"2.28"},{"t":2.825,"v":59.3,"label":"2.68"},{"t":3.194,"v":57.2,"label":"2.87"},{"t":3.709,"v":58,"label":"3.70"},{"t":4.146,"v":50.9,"label":"4.14"},{"t":4.515,"v":49.9,"label":"4.22"}
  ]},
   "mark": {"type": "text", "fontSize": 13, "color": "#333", "baseline": "middle", "align": "center"},
   "encoding": {"x": {"field": "t", "type": "quantitative"}, "y": {"field": "v", "type": "quantitative"}, "text": {"field": "label"}}},
  {"data": {"values": [
{"t":0.41,"t2":0.59,"v":89.7},{"t":0.57,"t2":0.76,"v":84.9},{"t":0.74,"t2":1.11,"v":81.1},{"t":0.9,"t2":0.97,"v":77},{"t":1.13,"t2":1.3,"v":74.5},{"t":2.15,"t2":2.52,"v":66.7},{"t":2.27,"t2":2.44,"v":57.5},{"t":2.65,"t2":2.83,"v":57.5},{"t":2.87,"t2":3.18,"v":55.4},{"t":4.22,"t2":4.51,"v":47.9}
  ]},
   "mark": {"type": "rule", "color": "#9ad39a", "strokeWidth": 1.5},
   "encoding": {"x": {"field": "t", "type": "quantitative"}, "x2": {"field": "t2"}, "y": {"field": "v", "type": "quantitative"}}},
  {"data": {"values": [
{"t":-0.534,"v":109.1,"kind":"rt","txt":"RT:"},{"t":-0.272,"v":109.1,"kind":"range","txt":"0.00 - 5.01"},{"t":0.456,"v":109.1,"kind":"rt","txt":"SM:"},{"t":0.786,"v":109.1,"kind":"code","txt":"7B"},
{"t":5.029,"v":104.7,"kind":"block","txt":"NL:\n2.75E3\nTIC F: + c ESI\nSRM ms2\n130.170\n[71.296-\n71.306]  MS\nblk_01"}
  ]},
   "mark": {"type": "text", "fontSize": 14, "align": "left", "baseline": "top", "lineBreak": "\n", "lineHeight": 16.4},
   "encoding": {"x": {"field": "t", "type": "quantitative"}, "y": {"field": "v", "type": "quantitative"}, "text": {"field": "txt"},
     "size": {"condition": {"test": "datum.kind === 'block'", "value": 14}, "value": 13},
     "color": {"condition": [{"test": "datum.kind === 'range'", "value": "#2d4e9e"}, {"test": "datum.kind === 'code'", "value": "#5b3c9c"}], "value": "#222222"}}},
  {"data": {"values": [
{"t":5.495,"v":108.7,"kind":"letter","txt":"c"},{"t":5.223,"v":59.9,"kind":"compound","txt":"Metformin"}
  ]},
   "mark": {"type": "text", "align": "center", "baseline": "middle"},
   "encoding": {"x": {"field": "t", "type": "quantitative"}, "y": {"field": "v", "type": "quantitative"}, "text": {"field": "txt"},
     "size": {"condition": {"test": "datum.kind === 'letter'", "value": 20}, "value": 18.5},
     "color": {"condition": {"test": "datum.kind === 'compound'", "value": "#3b2f9a"}, "value": "#222222"}}}
 ]
},
{
 "width": 484, "height": 369,
 "layer": [
  {"data": {"values": [
{"t":0.03,"v":33},{"t":0.05,"v":33},{"t":0.07,"v":35},{"t":0.09,"v":45},{"t":0.1,"v":60},{"t":0.12,"v":53},{"t":0.15,"v":71},{"t":0.17,"v":72},{"t":0.2,"v":82},{"t":0.22,"v":78},{"t":0.24,"v":60},{"t":0.26,"v":80},{"t":0.28,"v":89},{"t":0.3,"v":75},{"t":0.33,"v":79},{"t":0.35,"v":70},{"t":0.39,"v":100},{"t":0.41,"v":85},{"t":0.43,"v":80},{"t":0.47,"v":86},{"t":0.49,"v":78},{"t":0.52,"v":56},{"t":0.56,"v":63},{"t":0.59,"v":60},{"t":0.62,"v":50},{"t":0.65,"v":48},{"t":0.67,"v":48},{"t":0.69,"v":30},{"t":0.72,"v":27},{"t":0.74,"v":40},{"t":0.76,"v":48},{"t":0.78,"v":51},{"t":0.81,"v":49},{"t":0.84,"v":61},{"t":0.86,"v":50},{"t":0.88,"v":42},{"t":0.9,"v":44},{"t":0.92,"v":45},{"t":0.95,"v":38},{"t":0.97,"v":34},{"t":0.99,"v":38},{"t":1.02,"v":37},{"t":1.05,"v":36},{"t":1.07,"v":29},{"t":1.09,"v":33},{"t":1.11,"v":40},{"t":1.14,"v":54},{"t":1.18,"v":57},{"t":1.21,"v":58},{"t":1.23,"v":59},{"t":1.25,"v":52},{"t":1.27,"v":45},{"t":1.3,"v":37.5},{"t":1.32,"v":55},{"t":1.34,"v":72},{"t":1.36,"v":78},{"t":1.38,"v":84},{"t":1.41,"v":88},{"t":1.43,"v":84},{"t":1.44,"v":85},{"t":1.47,"v":70},{"t":1.49,"v":55},{"t":1.52,"v":36},{"t":1.55,"v":42},{"t":1.57,"v":45},{"t":1.59,"v":43},{"t":1.61,"v":41},{"t":1.64,"v":52},{"t":1.66,"v":57},{"t":1.68,"v":50},{"t":1.71,"v":52},{"t":1.74,"v":68},{"t":1.77,"v":80},{"t":1.79,"v":85},{"t":1.81,"v":86},{"t":1.83,"v":94},{"t":1.85,"v":88},{"t":1.87,"v":80},{"t":1.9,"v":55},{"t":1.92,"v":45},{"t":1.94,"v":41},{"t":1.97,"v":52},{"t":2.0,"v":64},{"t":2.02,"v":60},{"t":2.05,"v":63},{"t":2.08,"v":58},{"t":2.1,"v":70},{"t":2.13,"v":84},{"t":2.15,"v":78},{"t":2.17,"v":70},{"t":2.2,"v":58},{"t":2.22,"v":60},{"t":2.24,"v":59},{"t":2.26,"v":42},{"t":2.29,"v":52},{"t":2.31,"v":55},{"t":2.33,"v":60},{"t":2.35,"v":56},{"t":2.37,"v":57},{"t":2.39,"v":60},{"t":2.41,"v":58},{"t":2.43,"v":35},{"t":2.45,"v":44},{"t":2.48,"v":46},{"t":2.5,"v":52},{"t":2.52,"v":60},{"t":2.54,"v":65},{"t":2.56,"v":72},{"t":2.58,"v":54},{"t":2.6,"v":58},{"t":2.62,"v":60},{"t":2.64,"v":52},{"t":2.66,"v":46},{"t":2.69,"v":62},{"t":2.71,"v":70},{"t":2.73,"v":76},{"t":2.75,"v":74},{"t":2.77,"v":72},{"t":2.79,"v":64},{"t":2.81,"v":60},{"t":2.83,"v":58},{"t":2.85,"v":55},{"t":2.87,"v":37},{"t":2.9,"v":58},{"t":2.92,"v":67},{"t":2.94,"v":60},{"t":2.95,"v":56},{"t":2.97,"v":54},{"t":2.99,"v":53},{"t":3.0,"v":60},{"t":3.02,"v":57},{"t":3.05,"v":52},{"t":3.08,"v":46},{"t":3.1,"v":48},{"t":3.12,"v":52},{"t":3.14,"v":57},{"t":3.17,"v":59},{"t":3.19,"v":55},{"t":3.22,"v":41},{"t":3.24,"v":45},{"t":3.26,"v":48},{"t":3.28,"v":45},{"t":3.3,"v":40},{"t":3.33,"v":48},{"t":3.35,"v":47},{"t":3.38,"v":46},{"t":3.4,"v":50},{"t":3.43,"v":59},{"t":3.45,"v":57},{"t":3.47,"v":50},{"t":3.49,"v":45},{"t":3.51,"v":38},{"t":3.53,"v":33},{"t":3.55,"v":31},{"t":3.57,"v":32},{"t":3.59,"v":33},{"t":3.62,"v":40},{"t":3.64,"v":45},{"t":3.67,"v":50},{"t":3.69,"v":55},{"t":3.72,"v":58},{"t":3.74,"v":60},{"t":3.76,"v":64},{"t":3.78,"v":60},{"t":3.8,"v":58},{"t":3.83,"v":62},{"t":3.85,"v":61},{"t":3.87,"v":50},{"t":3.89,"v":40},{"t":3.91,"v":33},{"t":3.93,"v":31},{"t":3.95,"v":30},{"t":3.97,"v":20},{"t":3.99,"v":16},{"t":4.02,"v":14},{"t":4.04,"v":18},{"t":4.06,"v":25},{"t":4.08,"v":27},{"t":4.1,"v":28},{"t":4.12,"v":36},{"t":4.14,"v":40},{"t":4.16,"v":43},{"t":4.18,"v":43},{"t":4.2,"v":40},{"t":4.22,"v":39},{"t":4.24,"v":41},{"t":4.26,"v":41},{"t":4.28,"v":27},{"t":4.31,"v":36},{"t":4.33,"v":38},{"t":4.35,"v":40},{"t":4.37,"v":41},{"t":4.39,"v":40},{"t":4.41,"v":42},{"t":4.43,"v":60},{"t":4.44,"v":66},{"t":4.46,"v":58},{"t":4.48,"v":55},{"t":4.51,"v":52},{"t":4.53,"v":48},{"t":4.55,"v":45},{"t":4.57,"v":40},{"t":4.59,"v":35},{"t":4.61,"v":38},{"t":4.63,"v":42},{"t":4.65,"v":44},{"t":4.67,"v":47},{"t":4.69,"v":48},{"t":4.71,"v":52},{"t":4.73,"v":58},{"t":4.74,"v":62},{"t":4.76,"v":72},{"t":4.78,"v":79},{"t":4.8,"v":82},{"t":4.82,"v":78},{"t":4.84,"v":80},{"t":4.86,"v":76},{"t":4.88,"v":55},{"t":4.9,"v":40},{"t":4.91,"v":38},{"t":4.93,"v":45},{"t":4.95,"v":55},{"t":4.97,"v":68},{"t":4.99,"v":71},{"t":5.01,"v":65},{"t":5.03,"v":70},{"t":5.05,"v":75}
  ]},
   "mark": {"type": "line", "interpolate": "monotone", "color": "#505050", "strokeWidth": 1},
   "encoding": {
    "x": {"field": "t", "type": "quantitative", "scale": {"domain": [0.01, 6.01], "nice": false, "zero": false},
      "axis": {"title": "Time (min)", "values": [0.2,0.4,0.6,0.8,1,1.2,1.4,1.6,1.8,2,2.2,2.4,2.6,2.8,3,3.2,3.4,3.6,3.8,4,4.2,4.4,4.6,4.8,5,5.2,5.4,5.6,5.8,6], "tickCount": 1000, "labelExpr": "datum.value % 1 === 0 ? format(datum.value, 'd') : ''", "labelOverlap": false, "labelBound": false, "tickSize": 5, "labelPadding": 5, "titlePadding": 5}},
    "y": {"field": "v", "type": "quantitative", "scale": {"domain": [0, 100], "nice": false},
      "axis": {"title": "Relative Abundance", "values": [0,2,4,6,8,10,12,14,16,18,20,22,24,26,28,30,32,34,36,38,40,42,44,46,48,50,52,54,56,58,60,62,64,66,68,70,72,74,76,78,80,82,84,86,88,90,92,94,96,98,100], "tickCount": 1000, "labelExpr": "datum.value % 10 === 0 ? format(datum.value, 'd') : ''", "labelOverlap": false, "labelBound": false, "tickSize": {"condition": {"test": "datum.value % 10 === 0", "value": 7}, "value": 4}, "labelPadding": 2, "titlePadding": 5}}
   }},
  {"data": {"values": [
{"t":0.407,"v":102.7,"label":"0.39"},{"t":0.692,"v":88.3,"label":"0.45"},{"t":0.791,"v":65.6,"label":"0.56"},{"t":1.411,"v":98.1,"label":"1.40"},{"t":1.845,"v":97,"label":"1.83"},{"t":2.142,"v":87.3,"label":"2.13"},{"t":2.737,"v":78.6,"label":"2.73"},{"t":3.208,"v":78,"label":"2.79"},{"t":3.072,"v":69.4,"label":"2.92"},{"t":3.196,"v":63.1,"label":"3.00"},{"t":3.778,"v":67.8,"label":"3.75"},{"t":4.138,"v":45.8,"label":"4.17"},{"t":4.435,"v":69.1,"label":"4.42"},{"t":4.324,"v":83.2,"label":"4.76"},{"t":4.807,"v":85.1,"label":"4.80"},{"t":5.316,"v":82.4,"label":"4.84"}
  ]},
   "mark": {"type": "text", "fontSize": 13, "color": "#333", "baseline": "middle", "align": "center"},
   "encoding": {"x": {"field": "t", "type": "quantitative"}, "y": {"field": "v", "type": "quantitative"}, "text": {"field": "label"}}},
  {"data": {"values": [
{"t":0.47,"t2":0.69,"v":86.5},{"t":0.57,"t2":0.79,"v":63.8},{"t":2.84,"t2":3.23,"v":76},{"t":2.93,"t2":3.05,"v":67.5},{"t":3.05,"t2":3.21,"v":61.2},{"t":4.37,"t2":4.79,"v":81.1},{"t":4.89,"t2":5.33,"v":80.5}
  ]},
   "mark": {"type": "rule", "color": "#9ad39a", "strokeWidth": 1.5},
   "encoding": {"x": {"field": "t", "type": "quantitative"}, "x2": {"field": "t2"}, "y": {"field": "v", "type": "quantitative"}}},
  {"data": {"values": [
{"t":-0.672,"v":109.1,"kind":"rt","txt":"RT:"},{"t":-0.325,"v":109.1,"kind":"range","txt":"0.01 - 6.01"},{"t":0.655,"v":109.1,"kind":"rt","txt":"SM:"},{"t":1.064,"v":109.1,"kind":"code","txt":"7B"},
{"t":5.774,"v":104.7,"kind":"block","txt":"NL: 1.12E2\nTIC F: + c ESI SRM\nms2 226.027\n[135.055-135.065,\n152.081-152.091]\nMS blk_01"}
  ]},
   "mark": {"type": "text", "fontSize": 14, "align": "left", "baseline": "top", "lineBreak": "\n", "lineHeight": 16.6},
   "encoding": {"x": {"field": "t", "type": "quantitative"}, "y": {"field": "v", "type": "quantitative"}, "text": {"field": "txt"},
     "size": {"condition": {"test": "datum.kind === 'block'", "value": 14}, "value": 13},
     "color": {"condition": [{"test": "datum.kind === 'range'", "value": "#2d4e9e"}, {"test": "datum.kind === 'code'", "value": "#5b3c9c"}], "value": "#222222"}}},
  {"data": {"values": [
{"t":7.125,"v":108.7,"kind":"letter","txt":"d"},{"t":6.68,"v":62.6,"kind":"compound","txt":"IS"}
  ]},
   "mark": {"type": "text", "align": "center", "baseline": "middle"},
   "encoding": {"x": {"field": "t", "type": "quantitative"}, "y": {"field": "v", "type": "quantitative"}, "text": {"field": "txt"},
     "size": {"condition": {"test": "datum.kind === 'letter'", "value": 20}, "value": 18.5},
     "color": {"condition": {"test": "datum.kind === 'compound'", "value": "#3b2f9a"}, "value": "#222222"}}}
 ]
}
]
}
